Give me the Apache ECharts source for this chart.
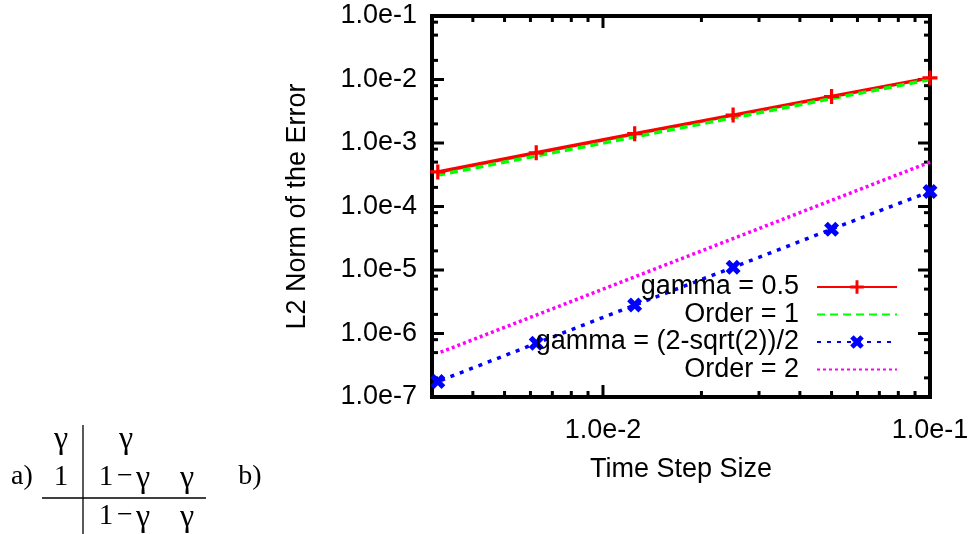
<!DOCTYPE html>
<html>
<head>
<meta charset="utf-8">
<script src="https://cdn.jsdelivr.net/npm/echarts@6/dist/echarts.min.js"></script>
<style>
html,body{margin:0;padding:0;background:#fff;}
#chart{width:972px;height:534px;}
</style>
</head>
<body>
<div id="chart"></div>
<script>
// ---- data ----
const stepSizes   = [0.1, 0.05, 0.025, 0.0125, 0.00625, 0.003125];
const gammaHalf   = [1.06e-2, 5.4e-3, 2.75e-3, 1.4e-3, 7.0e-4, 3.5e-4];
const orderOne    = [1.0e-2, 5.0e-3, 2.5e-3, 1.25e-3, 6.25e-4, 3.125e-4];
const gammaSdirk  = [1.72e-4, 4.4e-5, 1.1e-5, 2.8e-6, 7.0e-7, 1.75e-7];
const orderTwo    = [5.0e-4, 1.25e-4, 3.125e-5, 7.8e-6, 1.95e-6, 4.88e-7];
const seriesNames = ['gamma = 0.5', 'Order = 1', 'gamma = (2-sqrt(2))/2', 'Order = 2'];

// ---- axes / ticks ----
const xRange = [0.003, 0.1];
const yRange = [1e-7, 1e-1];
const xTickValues = [0.01, 0.1];
const xTickLabels = ['1.0e-2', '1.0e-1'];
const yTickValues = [1e-7, 1e-6, 1e-5, 1e-4, 1e-3, 1e-2, 1e-1];
const yTickLabels = ['1.0e-7', '1.0e-6', '1.0e-5', '1.0e-4', '1.0e-3', '1.0e-2', '1.0e-1'];
const xMinorTicks = [0.004, 0.005, 0.006, 0.007, 0.008, 0.009, 0.02, 0.03, 0.04, 0.05, 0.06, 0.07, 0.08, 0.09];
const yMinorTicks = [2e-7, 5e-7, 8e-7, 2e-6, 5e-6, 8e-6, 2e-5, 5e-5, 8e-5, 2e-4, 5e-4, 8e-4, 2e-3, 5e-3, 8e-3, 2e-2, 5e-2, 8e-2];

const FONT = "'Liberation Sans', Arial, Helvetica, sans-serif";
const SERIF = "'Liberation Serif', 'Times New Roman', serif";

function lookupLabel(values, labels, v) {
  for (let i = 0; i < values.length; i++) {
    if (Math.abs(Math.log10(v) - Math.log10(values[i])) < 1e-6) return labels[i];
  }
  return '';
}

const zip = (xs, ys) => xs.map((x, i) => [x, ys[i]]);

// tick marks: [x, y, major, direction(0 = on x axis, 1 = on y axis)]
const tickData = [];
xTickValues.forEach(v => tickData.push([v, yRange[0], 1, 0]));
xMinorTicks.forEach(v => tickData.push([v, yRange[0], 0, 0]));
yTickValues.forEach(v => tickData.push([xRange[0], v, 1, 1]));
yMinorTicks.forEach(v => tickData.push([xRange[0], v, 0, 1]));

const plusPath = 'path://M0,5.5 L14,5.5 L14,8.5 L0,8.5 Z M5.5,0 L8.5,0 L8.5,14 L5.5,14 Z';
const crossPath = 'path://M3.5,0 L7,3.5 L10.5,0 L14,3.5 L10.5,7 L14,10.5 L10.5,14 L7,10.5 L3.5,14 L0,10.5 L3.5,7 L0,3.5 Z';

const chart = echarts.init(document.getElementById('chart'), null, {renderer: 'canvas'});

const legendTops = [273.5, 301, 328.5, 356];
const legendHasSymbol = [true, false, true, false];

function serifText(x, y, text, size) {
  return {type: 'text', x: x, y: y, style: {text: text, fontFamily: SERIF, fontSize: size || 28, fill: '#000', align: 'center', verticalAlign: 'middle'}};
}

const option = {
  animation: false,
  backgroundColor: '#fff',
  textStyle: {fontFamily: FONT},
  grid: {
    left: 432, right: 42, top: 16, bottom: 137,
    show: true, borderColor: '#000', borderWidth: 4, backgroundColor: 'transparent'
  },
  xAxis: {
    type: 'log', logBase: 10, min: xRange[0], max: xRange[1],
    name: 'Time Step Size', nameLocation: 'middle', nameGap: 59,
    nameTextStyle: {fontFamily: FONT, fontSize: 27, color: '#000'},
    axisLine: {show: false}, axisTick: {show: false}, splitLine: {show: false}, minorTick: {show: false},
    axisLabel: {
      fontFamily: FONT, fontSize: 27, color: '#000', margin: 20,
      showMinLabel: true, showMaxLabel: true, hideOverlap: false,
      formatter: v => lookupLabel(xTickValues, xTickLabels, v)
    }
  },
  yAxis: {
    type: 'log', logBase: 10, min: yRange[0], max: yRange[1], splitNumber: 6,
    name: 'L2 Norm of the Error', nameLocation: 'middle', nameGap: 121,
    nameTextStyle: {fontFamily: FONT, fontSize: 27, color: '#000'},
    axisLine: {show: false}, axisTick: {show: false}, splitLine: {show: false}, minorTick: {show: false},
    axisLabel: {
      fontFamily: FONT, fontSize: 27, color: '#000', margin: 15,
      showMinLabel: true, showMaxLabel: true,
      formatter: v => lookupLabel(yTickValues, yTickLabels, v)
    }
  },
  legend: seriesNames.map((n, i) => ({
    data: [n], orient: 'horizontal', align: 'right', right: 74, top: legendTops[i],
    itemWidth: 80, itemHeight: 17, itemGap: 0, padding: 0, selectedMode: false,
    textStyle: {fontFamily: FONT, fontSize: 27, color: '#000', padding: [0, 13, 0, 0]},
    itemStyle: legendHasSymbol[i] ? {} : {color: 'transparent', borderColor: 'transparent', borderWidth: 0}
  })),
  series: [
    {
      type: 'custom', silent: true, z: 1, clip: false,
      encode: {x: 0, y: 1},
      data: tickData,
      renderItem: function (params, api) {
        const x = api.value(0), y = api.value(1), major = api.value(2), dir = api.value(3);
        const len = major ? 12 : 6;
        const st = {stroke: '#000', lineWidth: 3};
        if (dir === 0) {
          const b = api.coord([x, yRange[0]]);
          const t = api.coord([x, yRange[1]]);
          return {type: 'group', children: [
            {type: 'line', shape: {x1: b[0], y1: b[1], x2: b[0], y2: b[1] - len}, style: st},
            {type: 'line', shape: {x1: t[0], y1: t[1], x2: t[0], y2: t[1] + len}, style: st}
          ]};
        } else {
          const l = api.coord([xRange[0], y]);
          const r = api.coord([xRange[1], y]);
          return {type: 'group', children: [
            {type: 'line', shape: {x1: l[0], y1: l[1], x2: l[0] + len, y2: l[1]}, style: st},
            {type: 'line', shape: {x1: r[0], y1: r[1], x2: r[0] - len, y2: r[1]}, style: st}
          ]};
        }
      }
    },
    {
      name: seriesNames[0], type: 'line', z: 3, clip: false,
      data: zip(stepSizes, gammaHalf),
      symbol: plusPath, symbolSize: 15, showSymbol: true,
      lineStyle: {color: '#ff0000', width: 3.5, type: 'solid'},
      itemStyle: {color: '#ff0000'}
    },
    {
      name: seriesNames[1], type: 'line', z: 3, clip: false,
      data: zip(stepSizes, orderOne),
      symbol: 'none',
      lineStyle: {color: '#00ff00', width: 3.5, type: [8, 5]},
      itemStyle: {color: '#00ff00'}
    },
    {
      name: seriesNames[2], type: 'line', z: 3, clip: false,
      data: zip(stepSizes, gammaSdirk),
      symbol: crossPath, symbolSize: 15, showSymbol: true,
      lineStyle: {color: '#0000ff', width: 3.5, type: [4, 6]},
      itemStyle: {color: '#0000ff'}
    },
    {
      name: seriesNames[3], type: 'line', z: 3, clip: false,
      data: zip(stepSizes, orderTwo),
      symbol: 'none',
      lineStyle: {color: '#ff00ff', width: 3.5, type: [3, 3]},
      itemStyle: {color: '#ff00ff'}
    }
  ],
  graphic: [
    {type: 'line', shape: {x1: 83, y1: 425, x2: 83, y2: 534}, style: {stroke: '#000', lineWidth: 1.3}},
    {type: 'line', shape: {x1: 42, y1: 498, x2: 206, y2: 498}, style: {stroke: '#000', lineWidth: 1.3}},
    serifText(22, 477, 'a)'),
    serifText(61, 440, 'γ', 32),
    serifText(61, 477, '1', 29),
    serifText(126, 440, 'γ', 32),
    serifText(106, 477, '1', 29),
    serifText(125, 477, '\u2212', 28),
    serifText(143, 479, 'γ', 32),
    serifText(187, 479, 'γ', 32),
    serifText(250, 477, 'b)'),
    serifText(106, 516, '1', 29),
    serifText(125, 516, '\u2212', 28),
    serifText(143, 518, 'γ', 32),
    serifText(187, 518, 'γ', 32)
  ]
};

chart.setOption(option);
</script>
</body>
</html>
